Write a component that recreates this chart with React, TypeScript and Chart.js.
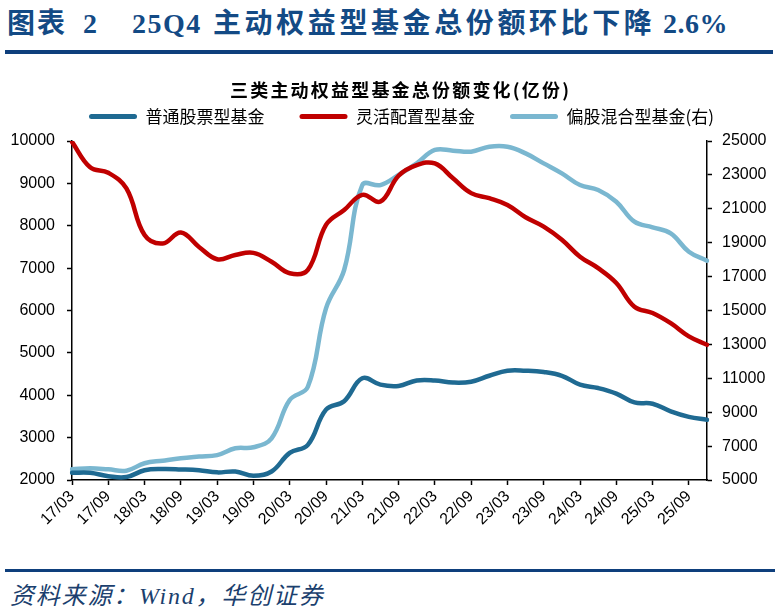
import React, { useEffect, useRef } from 'react';
import { Chart, registerables } from 'chart.js';

Chart.register(...registerables);

const quarters = [
  '17/03', '17/06', '17/09', '17/12',
  '18/03', '18/06', '18/09', '18/12',
  '19/03', '19/06', '19/09', '19/12',
  '20/03', '20/06', '20/09', '20/12',
  '21/03', '21/06', '21/09', '21/12',
  '22/03', '22/06', '22/09', '22/12',
  '23/03', '23/06', '23/09', '23/12',
  '24/03', '24/06', '24/09', '24/12',
  '25/03', '25/06', '25/09', '25/12',
];

// 普通股票型基金 (left axis)
const stockFund = [
  2170, 2170, 2090, 2070, 2230, 2260, 2250, 2230, 2180, 2200, 2100, 2200,
  2640, 2830, 3660, 3860, 4400, 4250, 4220, 4350, 4350, 4300, 4320, 4460,
  4580, 4580, 4550, 4460, 4250, 4170, 4040, 3830, 3800, 3620, 3490, 3420,
];

// 灵活配置型基金 (left axis)
const flexibleFund = [
  9980, 9380, 9250, 8880, 7780, 7580, 7840, 7500, 7210, 7310, 7360, 7150,
  6880, 6960, 8020, 8370, 8730, 8570, 9180, 9430, 9470, 9120, 8770, 8650,
  8490, 8200, 7980, 7670, 7270, 7000, 6650, 6090, 5940, 5700, 5390, 5190,
];

// 偏股混合型基金 (right axis)
const hybridFund = [
  5630, 5690, 5630, 5550, 5990, 6140, 6280, 6380, 6470, 6870, 6930, 7460,
  9720, 10500, 15130, 17390, 22400, 22400, 23000, 23680, 24470, 24430, 24370, 24660,
  24660, 24270, 23680, 23090, 22400, 22110, 21420, 20240, 19910, 19550, 18470, 17940,
];

const seriesNames = ['普通股票型基金', '灵活配置型基金', '偏股混合型基金(右)'];
const leftAxisRange = [2000, 10000, 1000];
const rightAxisRange = [5000, 25000, 2000];

const COLORS = ['#1F6A92', '#C00000', '#7AB7D0'];
const TICK_FONT = '"Liberation Sans", Arial, sans-serif';
const CJK = '"Noto Sans CJK SC", sans-serif';
const NAVY = '#134A85';

function ChartCanvas() {
  const ref = useRef<HTMLCanvasElement | null>(null);
  useEffect(() => {
    if (!ref.current) return;
    const axisBorder = { display: true, color: '#000', width: 1.5 };
    const plain = (v: any) => String(v);
    const chart = new Chart(ref.current, {
      type: 'line',
      data: {
        labels: quarters,
        datasets: [
          { label: seriesNames[0], data: stockFund, yAxisID: 'y', borderColor: COLORS[0], backgroundColor: COLORS[0] },
          { label: seriesNames[1], data: flexibleFund, yAxisID: 'y', borderColor: COLORS[1], backgroundColor: COLORS[1] },
          { label: seriesNames[2], data: hybridFund, yAxisID: 'y1', borderColor: COLORS[2], backgroundColor: COLORS[2] },
        ],
      },
      options: {
        responsive: false,
        animation: false,
        layout: { padding: { left: 0, right: -20, top: 0, bottom: 0 } },
        elements: {
          line: { borderWidth: 4.5, tension: 0.4, borderJoinStyle: 'round', borderCapStyle: 'round', fill: false },
          point: { radius: 0, hoverRadius: 0 },
        },
        plugins: {
          tooltip: { enabled: false },
          title: { display: false },
          subtitle: { display: true, text: '', padding: 0, weight: 100, font: { size: 5, lineHeight: 1.2 } } as any,
          legend: {
            position: 'top',
            weight: 1000,
            labels: {
              color: '#000',
              font: { family: CJK, size: 17 },
              boxWidth: 48,
              boxHeight: 5,
              padding: 35,
              useBorderRadius: true,
              borderRadius: 2.5,
              generateLabels: (c: any) =>
                (Chart.defaults.plugins.legend.labels.generateLabels as any)(c).map((l: any) => ({ ...l, lineWidth: 0 })),
            },
          } as any,
        },
        scales: {
          x: {
            type: 'category',
            offset: false,
            border: axisBorder,
            grid: {
              display: true,
              drawOnChartArea: false,
              drawTicks: true,
              tickLength: 5,
              tickWidth: 1.5,
              tickColor: (ctx: any) => (ctx.index % 2 === 0 ? '#000' : 'rgba(0,0,0,0)'),
            },
            ticks: {
              autoSkip: false,
              maxRotation: 45,
              minRotation: 45,
              padding: 2,
              color: '#000',
              font: { family: TICK_FONT, size: 16 },
              callback: function (this: any, value: any, index: number) {
                return index % 2 === 0 ? this.getLabelForValue(value) : '';
              },
            },
            afterFit: (s: any) => { s.height = 80; },
          },
          y: {
            position: 'left',
            min: leftAxisRange[0],
            max: leftAxisRange[1],
            border: axisBorder,
            grid: { display: true, drawOnChartArea: false, drawTicks: true, tickLength: 5, tickWidth: 1.5, tickColor: '#000' },
            ticks: { stepSize: leftAxisRange[2], padding: 12, color: '#000', font: { family: TICK_FONT, size: 16 }, callback: plain },
            afterFit: (s: any) => { s.width = 72; },
          },
          y1: {
            position: 'right',
            min: rightAxisRange[0],
            max: rightAxisRange[1],
            border: axisBorder,
            grid: { display: true, drawOnChartArea: false, drawTicks: true, tickLength: 5, tickWidth: 1.5, tickColor: '#000' },
            ticks: { stepSize: rightAxisRange[2], padding: 10, color: '#000', font: { family: TICK_FONT, size: 16 }, callback: plain },
            afterFit: (s: any) => { s.width = 96; },
          },
        },
      } as any,
    });
    return () => chart.destroy();
  }, []);
  return <canvas ref={ref} width={783} height={487} style={{ display: 'block' }} />;
}

export default function App() {
  const titleFont = '"Liberation Serif", "Noto Sans CJK SC", serif';
  const titleSpan = (left: number, text: string, ls = 0) => (
    <span
      style={{
        position: 'absolute',
        left,
        top: 9.5,
        fontFamily: titleFont,
        fontWeight: 700,
        fontSize: 28,
        lineHeight: '28px',
        letterSpacing: ls,
        color: NAVY,
        whiteSpace: 'nowrap',
      }}
    >
      {text}
    </span>
  );
  return (
    <div style={{ position: 'absolute', left: 0, top: 0, width: 783, height: 615, background: '#fff', overflow: 'hidden' }}>
      {titleSpan(7, '图表', 2)}
      {titleSpan(83, '2')}
      {titleSpan(132, '25Q4', 1.5)}
      {titleSpan(213, '主动权益型基金总份额环比下降', 3.6)}
      {titleSpan(663, '2.6%', 0.5)}
      <div style={{ position: 'absolute', left: 5, top: 50, width: 768, height: 4, background: '#0E3F7C' }} />
      <div style={{ position: 'absolute', left: 0, top: 73 }}>
        <ChartCanvas />
      </div>
      <div
        style={{
          position: 'absolute',
          left: 230,
          top: 80,
          fontFamily: CJK,
          fontWeight: 700,
          fontSize: 18,
          lineHeight: '18px',
          letterSpacing: 2.2,
          color: '#000',
          whiteSpace: 'nowrap',
        }}
      >
        三类主动权益型基金总份额变化(亿份)
      </div>
      <div style={{ position: 'absolute', left: 5, top: 569, width: 770, height: 3, background: '#0E3F7C' }} />
      <div
        style={{
          position: 'absolute',
          left: 10,
          top: 584,
          fontFamily: titleFont,
          fontStyle: 'italic',
          fontSize: 24,
          lineHeight: '24px',
          letterSpacing: 1.8,
          color: '#1B3F6E',
          whiteSpace: 'nowrap',
        }}
      >
        资料来源：Wind，华创证券
      </div>
    </div>
  );
}
